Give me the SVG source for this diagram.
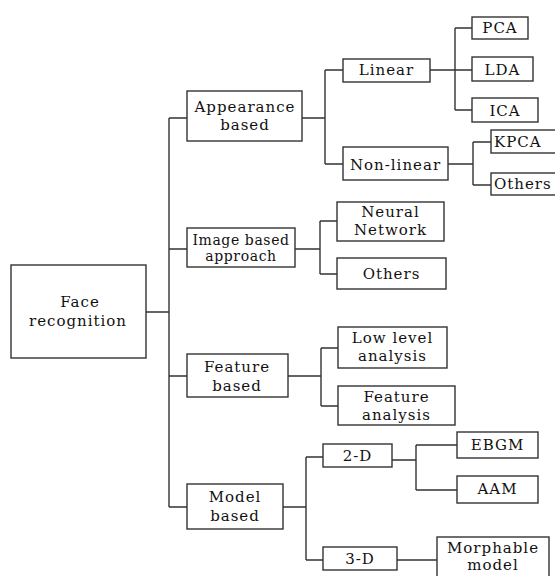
<svg xmlns="http://www.w3.org/2000/svg" width="555" height="576" viewBox="0 0 555 576">
<style>
rect{fill:#fff;stroke:#333;stroke-width:1.4}
#connectors path{fill:none;stroke:#333;stroke-width:1.4}
text{font-family:"DejaVu Serif","Liberation Serif",serif;font-size:15px;fill:#111;text-anchor:middle;letter-spacing:1px}
.l{text-anchor:start}
.s{font-size:14px;letter-spacing:0.6px}
</style>
<rect x="0" y="0" width="555" height="576" style="fill:#fff;stroke:none"/>
<g id="connectors">
<path d="M146 312H169M169 118V507M169 118H187M169 249H187M169 376H187M169 507H187"/>
<path d="M302 118H325M325 70V164M325 70H343M325 164H343"/>
<path d="M430 70H472M455 28V110M455 28H472M455 110H472"/>
<path d="M448 164H473M473 142V185M473 142H491M473 185H491"/>
<path d="M295 249H320M320 221V274M320 221H337M320 274H337"/>
<path d="M288 376H321M321 348V406M321 348H338M321 406H338"/>
<path d="M283 507H306M306 457V560M306 457H323M306 560H323"/>
<path d="M392 460H416M416 445V490M416 445H457M416 490H457"/>
<path d="M397 560H450"/>
</g>
<g id="face"><rect x="11" y="265" width="135" height="93"/><text x="80" y="307">Face</text><text x="78" y="326">recognition</text></g>
<g id="appearance"><rect x="187" y="91" width="115" height="50"/><text x="245" y="112">Appearance</text><text x="245" y="130">based</text></g>
<g id="image"><rect x="187" y="228" width="108" height="39"/><text class="s" x="241" y="245">Image based</text><text class="s" x="241" y="261">approach</text></g>
<g id="feature"><rect x="187" y="354" width="101" height="43"/><text x="237" y="372">Feature</text><text x="237" y="391">based</text></g>
<g id="model"><rect x="187" y="484" width="96" height="45"/><text x="235" y="502">Model</text><text x="235" y="521">based</text></g>
<g id="linear"><rect x="343" y="59" width="87" height="23"/><text x="386.5" y="75">Linear</text></g>
<g id="nonlinear"><rect x="343" y="147" width="105" height="33"/><text x="395.5" y="170">Non-linear</text></g>
<g id="pca"><rect x="472" y="17" width="56" height="22"/><text x="500" y="33">PCA</text></g>
<g id="lda"><rect x="472" y="57" width="61" height="24"/><text x="502.5" y="75">LDA</text></g>
<g id="ica"><rect x="472" y="98" width="66" height="24"/><text x="505" y="116">ICA</text></g>
<g id="kpca"><rect x="491" y="130" width="70" height="23"/><text class="l" x="494" y="147">KPCA</text></g>
<g id="others1"><rect x="491" y="173" width="70" height="22"/><text class="l" x="494" y="189">Others</text></g>
<g id="neural"><rect x="337" y="202" width="107" height="39"/><text x="390.5" y="217">Neural</text><text x="390.5" y="235">Network</text></g>
<g id="others2"><rect x="337" y="258" width="109" height="31"/><text x="391.5" y="279">Others</text></g>
<g id="lowlevel"><rect x="338" y="327" width="109" height="41"/><text x="392.5" y="343">Low level</text><text x="392.5" y="361">analysis</text></g>
<g id="featanalysis"><rect x="338" y="386" width="117" height="39"/><text x="396.5" y="402">Feature</text><text x="396.5" y="420">analysis</text></g>
<g id="d2"><rect x="323" y="444" width="69" height="23"/><text x="357.5" y="461">2-D</text></g>
<g id="d3"><rect x="323" y="547" width="74" height="23"/><text x="360" y="564">3-D</text></g>
<g id="ebgm"><rect x="457" y="432" width="81" height="26"/><text x="497.5" y="450">EBGM</text></g>
<g id="aam"><rect x="457" y="476" width="81" height="27"/><text x="497.5" y="494">AAM</text></g>
<g id="morphable"><rect x="437" y="537" width="112" height="45"/><text x="493" y="553">Morphable</text><text x="493" y="570">model</text></g>
</svg>
